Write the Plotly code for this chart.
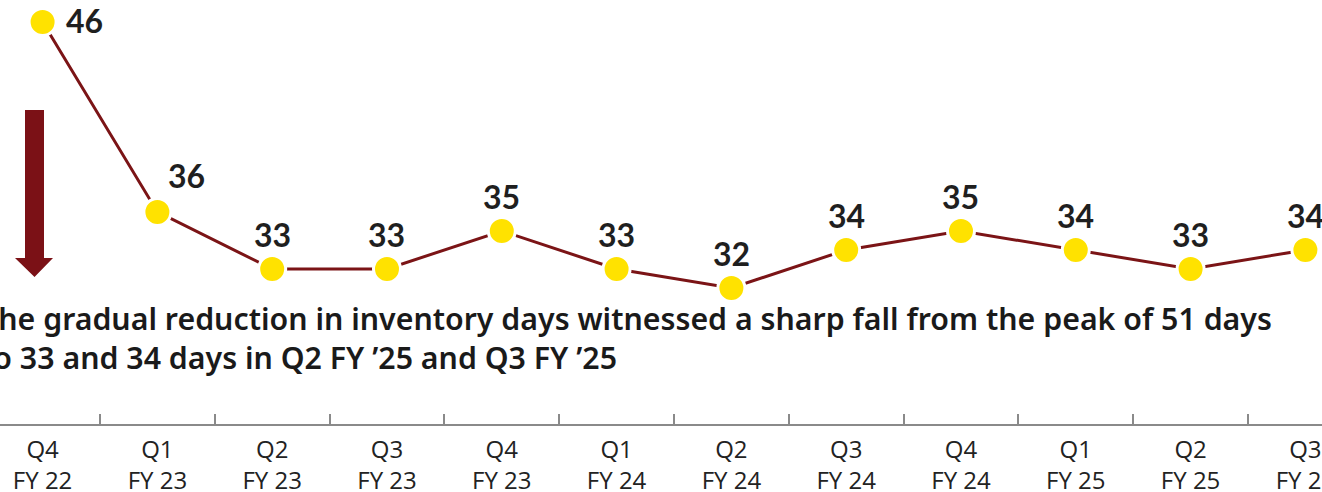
import plotly.graph_objects as go

quarters = ["Q4<br>FY 22", "Q1<br>FY 23", "Q2<br>FY 23", "Q3<br>FY 23", "Q4<br>FY 23", "Q1<br>FY 24",
            "Q2<br>FY 24", "Q3<br>FY 24", "Q4<br>FY 24", "Q1<br>FY 25", "Q2<br>FY 25", "Q3<br>FY 25"]
inventory_days = [46, 36, 33, 33, 35, 33, 32, 34, 35, 34, 33, 34]
note_text = ("The gradual reduction in inventory days witnessed a sharp fall from the peak of 51 days<br>"
             "to 33 and 34 days in Q2 FY ’25 and Q3 FY ’25")

W, H = 1322, 492
B = 68
PH = H - B
LINE = "#7b1416"
YEL = "#ffe200"

fig = go.Figure()
fig.add_trace(go.Scatter(
    x=quarters, y=inventory_days, mode="lines+markers",
    line=dict(color=LINE, width=3),
    marker=dict(size=27, color=YEL, line=dict(color="white", width=3)),
    cliponaxis=False, hoverinfo="skip",
))

# value labels
label_font = dict(family="Lato, 'Open Sans', sans-serif", size=32, color="#1f1f1f")
anns = []
for i, (q, v) in enumerate(zip(quarters, inventory_days)):
    if i == 0:
        xs, ys, xa = 21, 1, "left"
    elif i == 1:
        xs, ys, xa = 9, 36, "left"
    else:
        xs, ys, xa = 0, 34, "center"
    anns.append(dict(x=q, y=v, xref="x", yref="y", text=f"<b>{v}</b>", showarrow=False,
                     xanchor=xa, yanchor="middle", xshift=xs, yshift=ys, font=label_font))

def px(xp):
    return xp / W

def py(yp):
    return (PH - yp) / PH

anns.append(dict(x=px(-21), y=py(338), xref="paper", yref="paper", text=note_text, showarrow=False,
                 xanchor="left", yanchor="middle", align="left",
                 font=dict(family="'Noto Sans', 'Open Sans', sans-serif", size=30.3, weight=600,
                           color="#1a1a1a")))

# down arrow decoration
path = (f"M {px(25)} {py(110)} L {px(44)} {py(110)} L {px(44)} {py(258)} L {px(53)} {py(258)} "
        f"L {px(34.5)} {py(277)} L {px(15)} {py(258)} L {px(25)} {py(258)} Z")
shapes = [dict(type="path", path=path, xref="paper", yref="paper", fillcolor="#7b1116",
               line=dict(width=0))]

a = -0.371
b = a + W / 114.8
y0 = 24.84
y1 = y0 + PH / 19.0

fig.update_layout(
    width=W, height=H, margin=dict(l=0, r=0, t=0, b=B, autoexpand=False),
    paper_bgcolor="white", plot_bgcolor="white", showlegend=False,
    annotations=anns, shapes=shapes,
    xaxis=dict(type="category", range=[a, b], automargin=False,
               tickson="boundaries", ticks="inside", ticklen=10, tickwidth=1.5, tickcolor="#8a8a8a",
               showline=True, linecolor="#8a8a8a", linewidth=1.5, showgrid=False, zeroline=False,
               ticklabeloverflow="allow", ticklabelstandoff=3,
               tickfont=dict(family="'Open Sans', sans-serif", size=24, color="#222"), fixedrange=True),
    yaxis=dict(range=[y0, y1], visible=False, showgrid=False, zeroline=False, fixedrange=True,
               automargin=False),
)

fig.write_html("out.html", config={"displayModeBar": False},
               post_script="document.body.style.margin='0';document.body.style.overflow='hidden';")
